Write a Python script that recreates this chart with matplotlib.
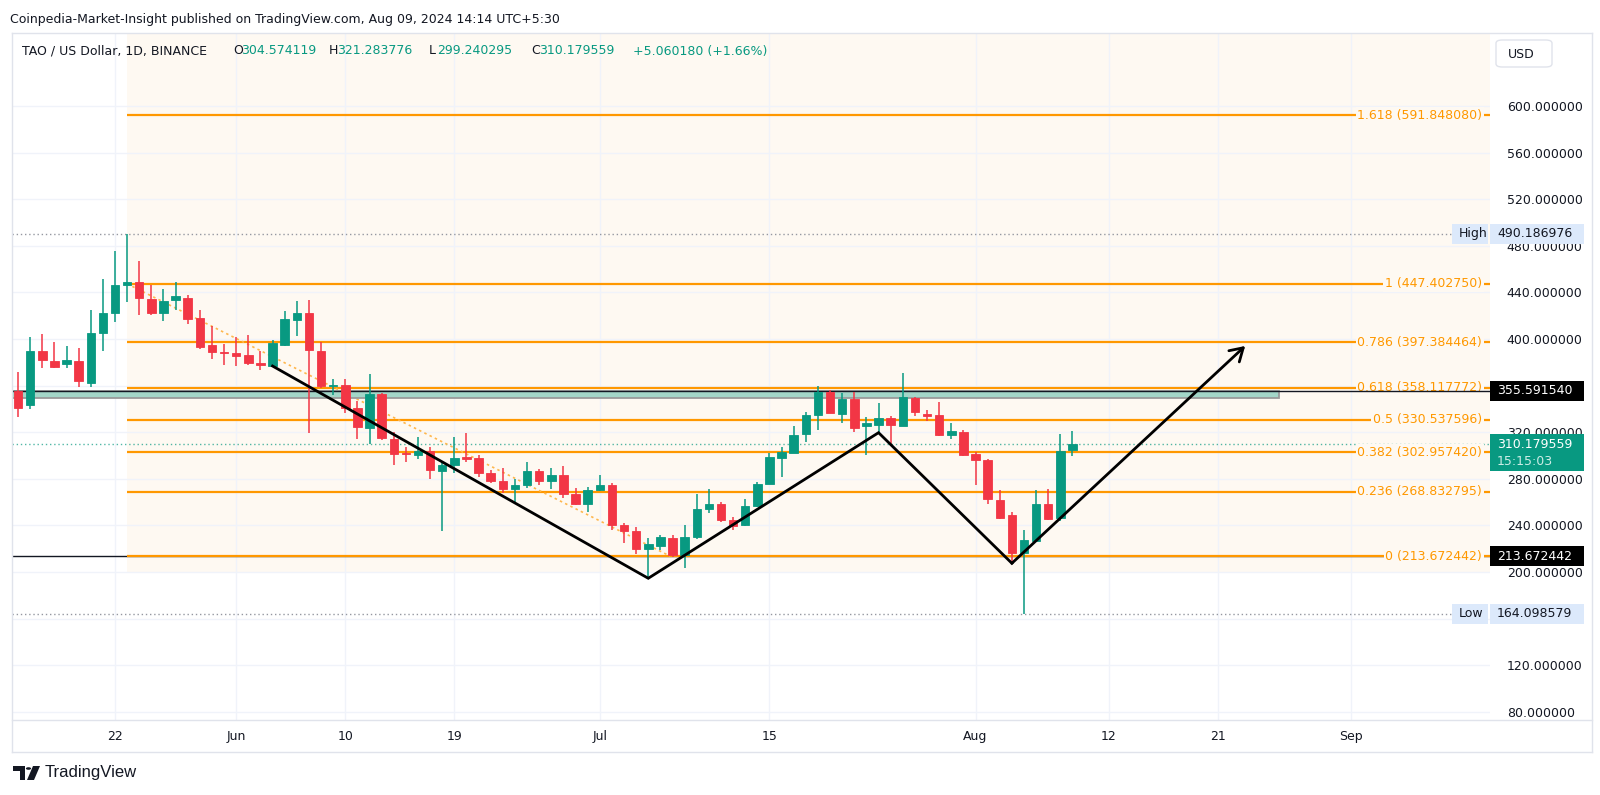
import matplotlib
matplotlib.use("Agg")
import matplotlib.pyplot as plt
import matplotlib.dates as mdates
from matplotlib.patches import Rectangle, FancyBboxPatch, Polygon, Circle
import numpy as np
import pandas as pd

# ---- data (daily TAO/USD candles) ----
dates = pd.date_range("2024-05-14", "2024-08-09", freq="D")

opens = [355.0, 343.4, 390.0, 380.8, 378.8, 380.8, 362.2, 405.2, 422.0, 446.4, 448.9, 434.3, 422.6, 433.8, 434.9, 418.0, 394.6, 389.0,
         387.7, 386.3, 379.4, 376.8, 395.2, 416.6, 422.0, 390.0, 359.5, 360.2, 341.1, 323.9, 352.5, 314.2, 301.8, 300.1, 303.9,
         287.0, 291.6, 297.8, 297.6, 285.3, 277.8, 271.2, 275.0, 287.0, 278.1, 283.3, 266.7, 258.1,
         270.4, 274.8, 240.1, 235.2, 219.7, 222.3, 229.2, 214.6, 229.8, 254.4, 258.4, 244.4, 240.4, 256.7, 275.8, 297.9,
         302.4, 318.2, 335.0, 354.5, 335.9, 348.5, 325.3, 326.5, 331.9, 325.0, 349.4, 335.9, 335.1, 317.6, 319.9,
         301.0, 296.2, 261.8, 249.0, 216.0, 226.9, 258.4, 246.7, 304.574119]
highs = [372.0, 401.4, 404.6, 397.7, 394.0, 392.3, 424.9, 451.8, 475.6, 490.186976, 467.0, 446.6, 442.6, 448.9, 437.8, 424.9, 411.2, 395.7,
         401.4, 403.1, 389.7, 399.2, 424.0, 432.6, 433.5, 397.7, 366.0, 365.7, 346.8, 370.2, 353.4, 320.5, 307.0, 316.2, 307.0,
         294.7, 315.6, 319.0, 300.4, 287.6, 289.0, 279.8, 294.1, 288.7, 289.0, 291.0, 271.8, 273.3,
         283.4, 276.4, 242.4, 238.3, 229.2, 232.0, 231.5, 240.3, 267.0, 271.2, 260.4, 247.5, 263.0, 277.5, 301.9, 307.0,
         325.6, 337.3, 359.6, 356.2, 353.9, 354.8, 333.3, 345.4, 334.2, 370.5, 350.5, 339.1, 345.9, 327.6, 321.6,
         303.3, 296.7, 270.4, 251.8, 236.1, 270.4, 271.3, 318.5, 321.283776]
lows = [332.8, 340.2, 375.4, 375.4, 375.4, 359.1, 358.5, 389.7, 414.9, 431.8, 420.9, 420.9, 415.8, 424.9, 413.2, 391.7, 382.6, 377.4,
        376.8, 377.4, 373.4, 376.5, 394.0, 402.6, 319.0, 357.6, 351.9, 336.8, 313.9, 309.9, 313.0, 291.6, 294.7, 297.0, 280.1,
        235.5, 285.3, 294.7, 281.8, 276.1, 267.5, 259.8, 272.4, 275.0, 271.5, 263.2, 257.2, 251.2,
        269.5, 235.8, 225.2, 215.5, 194.6, 218.9, 213.2, 203.7, 228.3, 250.9, 243.2, 236.1, 239.8, 256.1, 275.5, 281.3,
        301.9, 311.9, 321.9, 336.2, 327.6, 320.5, 300.7, 319.6, 310.0, 325.0, 334.2, 330.0, 316.7, 314.2, 299.6,
        274.7, 258.1, 245.8, 206.9, 164.098579, 226.5, 244.8, 243.8, 299.240295]
closes = [340.5, 390.0, 381.7, 376.3, 381.7, 363.7, 405.2, 422.0, 446.4, 448.9, 435.5, 422.6, 432.6, 436.6, 417.2, 392.9, 388.6, 388.2,
          385.1, 379.7, 377.4, 396.6, 416.9, 422.0, 390.6, 359.6, 360.5, 341.1, 324.7, 352.5, 314.7, 301.0, 301.4, 303.9, 287.3,
          291.6, 297.9, 297.4, 285.3, 278.4, 271.2, 275.0, 287.0, 277.8, 283.0, 266.7, 258.1, 270.4,
          275.0, 240.0, 235.5, 220.0, 224.0, 230.0, 214.9, 230.0, 254.1, 258.4, 244.4, 239.8, 257.0, 275.8, 298.7, 303.0,
          317.3, 335.0, 354.5, 336.8, 348.5, 323.6, 328.3, 332.0, 326.6, 350.5, 337.3, 333.6, 317.7, 320.8, 300.2,
          296.4, 262.4, 246.7, 216.0, 227.5, 258.4, 245.2, 303.9, 310.179559]

fib_ratios = ["1.618", "1", "0.786", "0.618", "0.5", "0.382", "0.236", "0"]
fib_prices = [591.848080, 447.402750, 397.384464, 358.117772, 330.537596, 302.957420, 268.832795, 213.672442]
fib_start = "2024-05-23"
fib_trend = (["2024-05-23", "2024-07-06 19:00"], [447.402750, 213.672442])

zigzag_dates = ["2024-06-04", "2024-07-05", "2024-07-24", "2024-08-04", "2024-08-23 06:00"]
zigzag_prices = [376.8, 194.6, 319.6, 207.5, 394.0]

zone_low, zone_high, zone_end = 349.6, 355.6, "2024-08-26"
line_355 = 355.591540
line_213 = 213.672442
high_price, low_price, last_price = 490.186976, 164.098579, 310.179559
tint_bottom = 199.0

# 360 and 160 sit under the price labels, so they get no text
y_ticks = [80, 120, 160, 200, 240, 280, 320, 360, 400, 440, 480, 520, 560, 600]
y_tick_labels = ["" if t in (160, 360) else f"{t:.6f}" for t in y_ticks]
x_tick_dates = ["2024-05-22", "2024-06-01", "2024-06-10", "2024-06-19", "2024-07-01",
                "2024-07-15", "2024-08-01", "2024-08-12", "2024-08-21", "2024-09-01"]
x_tick_labels = ["22", "Jun", "10", "19", "Jul", "15", "Aug", "12", "21", "Sep"]

# ---- style ----
GREEN = "#089981"
RED = "#F23645"
ORANGE = "#FF9800"
TINT = "#FEF9F2"
TEXT = "#131722"
GRID = "#F0F3FA"
LABEL_BLUE = "#DCE9FB"

W, H = 1600, 795
AX_L, AX_R, AX_T, AX_B = 12, 1490, 33, 720


def fx(x):
    return x / W


def fy(y):
    return 1 - y / H


def num(d):
    return mdates.date2num(pd.Timestamp(d))


fig = plt.figure(figsize=(16, 7.95), dpi=100)
fig.patch.set_facecolor("white")
ax = fig.add_axes([fx(AX_L), fy(AX_B), (AX_R - AX_L) / W, (AX_B - AX_T) / H])

base = num("2024-05-22")
x_left, x_right = base - 8.498, base + 113.45
ax.set_xlim(x_left, x_right)
ax.set_ylim(72.96, 662.66)

# tinted background of the fib drawing
ax.add_patch(Rectangle((num(fib_start), tint_bottom), x_right - num(fib_start), 700 - tint_bottom,
                       facecolor=TINT, edgecolor="none", zorder=0.5))

ax.set_yticks(y_ticks)
ax.yaxis.tick_right()
ax.set_yticklabels(y_tick_labels)
ax.set_xticks([num(d) for d in x_tick_dates])
ax.set_xticklabels(x_tick_labels)
ax.tick_params(axis="y", length=0, pad=12, labelsize=9, labelcolor=TEXT)
ax.tick_params(axis="x", length=0, pad=7, labelsize=9, labelcolor=TEXT)
ax.grid(True, color=GRID, linewidth=1, zorder=0.6)
ax.set_axisbelow(True)
for s in ax.spines.values():
    s.set_visible(False)

# fib levels
fs = num(fib_start)
for r, p in zip(fib_ratios, fib_prices):
    ax.plot([fs, x_right], [p, p], color=ORANGE, lw=1.6, zorder=3, solid_capstyle="butt")
    ax.text(0.9946, p, f"{r} ({p:.6f})", transform=ax.get_yaxis_transform(), ha="right", va="center",
            fontsize=9, color=ORANGE, zorder=3.5,
            bbox=dict(boxstyle="square,pad=0.12", facecolor=TINT, edgecolor="none"))
ax.plot([num(d) for d in fib_trend[0]], fib_trend[1], color="#FFB74D", lw=1.2, ls=(0, (1.5, 2)), zorder=3)

# zone and horizontal lines
ax.add_patch(Rectangle((x_left, zone_low), num(zone_end) - x_left, zone_high - zone_low,
                       facecolor="#A3D6C8", edgecolor="#9A9A9A", lw=1.3, zorder=3.2))
ax.axhline(line_355, color="#131722", lw=1, zorder=3.8)
ax.axhline(line_213, color="#131722", lw=1, zorder=2.9)
hl_end = (1452 - AX_L) / (AX_R - AX_L)
ax.axhline(high_price, xmax=hl_end, color="#9598A1", lw=1, ls=(0, (1, 2)), zorder=2)
ax.axhline(low_price, xmax=hl_end, color="#9598A1", lw=1, ls=(0, (1, 2)), zorder=2)
ax.axhline(last_price, color=GREEN, lw=1, ls=(0, (1, 2)), alpha=0.7, zorder=2)

# candles
x = mdates.date2num(dates)
o = np.array(opens)
c = np.array(closes)
cols = np.where(c >= o, GREEN, RED)
ax.vlines(x, lows, highs, colors=cols, lw=1.1, zorder=4)
body_h = np.maximum(np.abs(c - o), 0.9)
ax.bar(x, body_h, bottom=np.minimum(o, c), width=0.7, color=cols, edgecolor=cols, lw=0.6, zorder=5)

# zigzag projection with arrow
zx = [num(d) for d in zigzag_dates]
ax.plot(zx[:-1], zigzag_prices[:-1], color="black", lw=2, zorder=6, solid_joinstyle="miter")
ax.annotate("", xy=(zx[-1], zigzag_prices[-1]), xytext=(zx[-2], zigzag_prices[-2]),
            arrowprops=dict(arrowstyle="->,head_length=0.9,head_width=0.55", color="black", lw=2,
                            shrinkA=0, shrinkB=0), zorder=6)

# ---- frame lines ----
for (x0, y0, x1, y1) in [(AX_L, AX_T, 1592, AX_T), (AX_L, AX_T, AX_L, 752), (AX_L, 752, 1592, 752),
                         (1592, AX_T, 1592, 752), (AX_L, AX_B, 1592, AX_B)]:
    fig.add_artist(plt.Line2D([fx(x0), fx(x1)], [fy(y0), fy(y1)], color="#E0E3EB", lw=1))


def price_box(y, text, face, tcolor, x0=1490, x1=1584, h=20, second=None):
    fig.add_artist(Rectangle((fx(x0), fy(y + h / 2)), (x1 - x0) / W, h / H, transform=fig.transFigure,
                             facecolor=face, edgecolor="none", zorder=4))
    if second is None:
        fig.text(fx(x0 + 7), fy(y), text, ha="left", va="center", fontsize=9, color=tcolor, zorder=5)
    else:
        fig.text(fx(x0 + 7), fy(y - 8), text, ha="left", va="center", fontsize=9, color=tcolor, zorder=5)
        fig.text(fx(x0 + 7), fy(y + 9), second, ha="left", va="center", fontsize=9, color="#CDEDE6", zorder=5)


def ypix(v):
    return 106 + (600 - v) * 1.165


price_box(ypix(high_price), f"{high_price:.6f}", LABEL_BLUE, TEXT)
price_box(ypix(high_price), "High", LABEL_BLUE, TEXT, x0=1452, x1=1488)
price_box(ypix(low_price), f"{low_price:.6f}", LABEL_BLUE, TEXT)
price_box(ypix(low_price), "Low", LABEL_BLUE, TEXT, x0=1452, x1=1488)
price_box(ypix(line_355), f"{line_355:.6f}", "#000000", "white")
price_box(ypix(line_213), f"{line_213:.6f}", "#000000", "white")
price_box(ypix(last_price) + 9, f"{last_price:.6f}", GREEN, "white", h=37, second="15:15:03")

# USD box
fig.add_artist(FancyBboxPatch((fx(1496), fy(67)), 56 / W, 27 / H, boxstyle="round,pad=0,rounding_size=0.004",
                              transform=fig.transFigure, facecolor="white", edgecolor="#E0E3EB", lw=1, zorder=4))
fig.text(fx(1508), fy(54), "USD", ha="left", va="center", fontsize=9, color=TEXT, zorder=5)

# header texts
fig.text(fx(10), fy(19), "Coinpedia-Market-Insight published on TradingView.com, Aug 09, 2024 14:14 UTC+5:30",
         ha="left", va="center", fontsize=9, color=TEXT)
fig.text(fx(22), fy(51), "TAO / US Dollar, 1D, BINANCE", ha="left", va="center", fontsize=9, color=TEXT)
legend = [(233, "O", "304.574119"), (329, "H", "321.283776"), (429, "L", "299.240295"), (531, "C", "310.179559")]
for lx, k, v in legend:
    fig.text(fx(lx), fy(51), k, ha="left", va="center", fontsize=9, color=TEXT)
    fig.text(fx(lx + 8), fy(51), v, ha="left", va="center", fontsize=9, color=GREEN)
fig.text(fx(633), fy(51), "+5.060180 (+1.66%)", ha="left", va="center", fontsize=9, color=GREEN)

# TradingView logo
fig.add_artist(Polygon([(fx(13), fy(766)), (fx(25), fy(766)), (fx(25), fy(780)), (fx(20), fy(780)),
                        (fx(20), fy(771)), (fx(13), fy(771))], closed=True, transform=fig.transFigure,
                       facecolor=TEXT, edgecolor="none"))
fig.add_artist(Circle((fx(28.5), fy(768.5)), 2.6 / W, transform=fig.transFigure, facecolor=TEXT, edgecolor="none"))
fig.add_artist(Polygon([(fx(33), fy(766)), (fx(40), fy(766)), (fx(34), fy(780)), (fx(27), fy(780))], closed=True,
                       transform=fig.transFigure, facecolor=TEXT, edgecolor="none"))
fig.text(fx(45), fy(773), "TradingView", ha="left", va="center", fontsize=12, color=TEXT,
         family="Liberation Sans")

fig.savefig("out.png", dpi=100, facecolor="white")
